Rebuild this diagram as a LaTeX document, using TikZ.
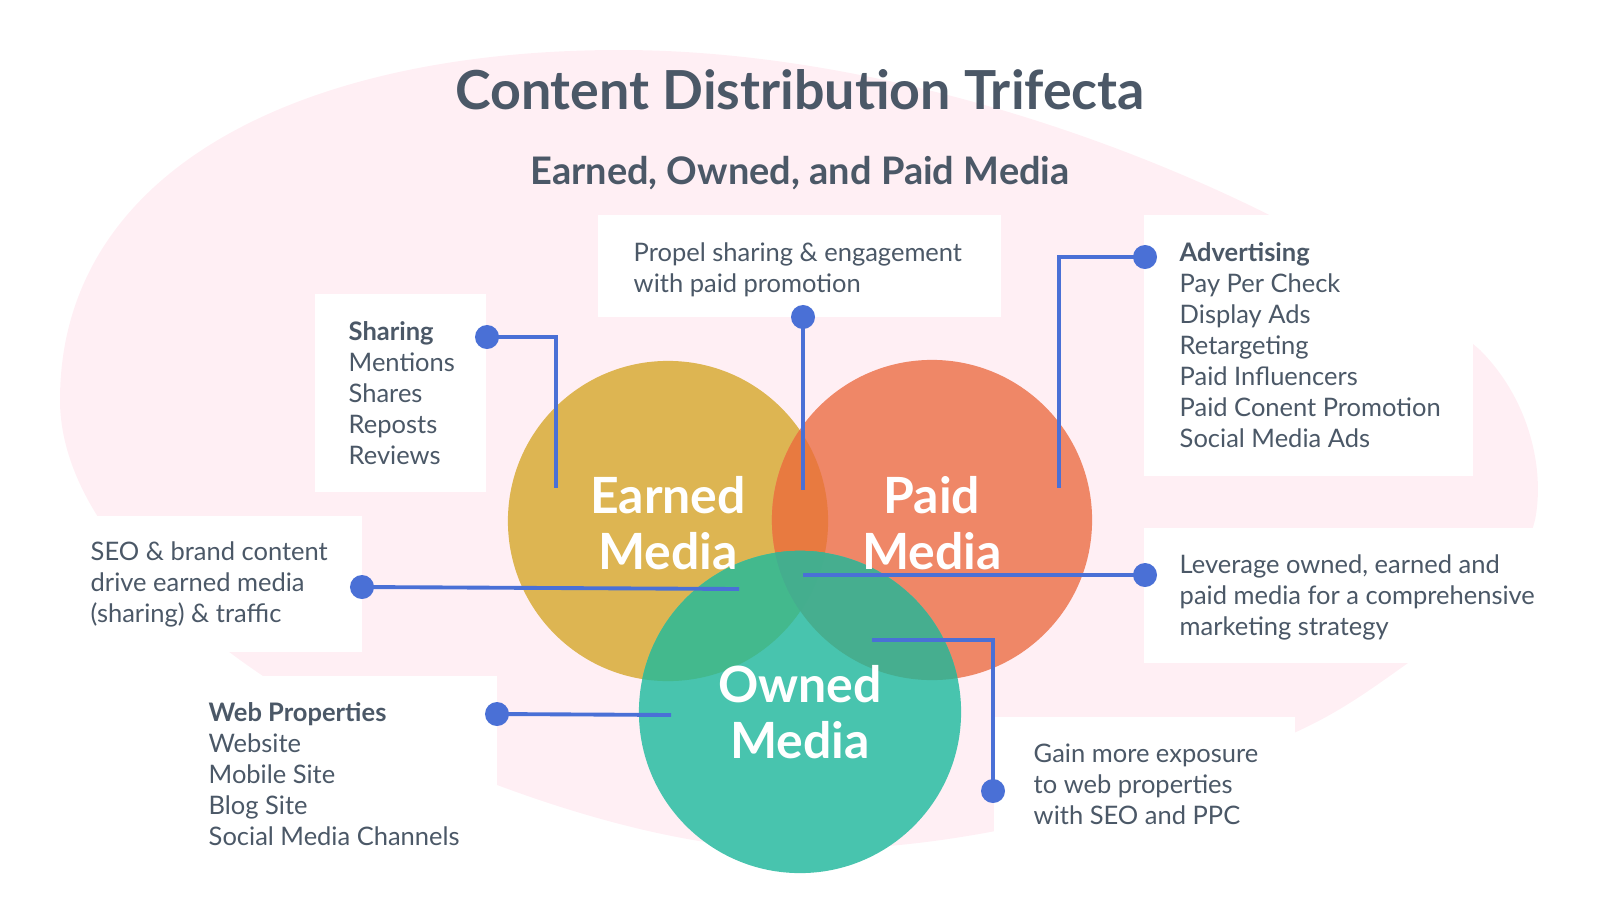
\documentclass[tikz,border=0pt]{standalone}
\usepackage{fontspec}
\setmainfont{Lato}
\usetikzlibrary{positioning}

\definecolor{pinkbg}{HTML}{FFEFF4}
\definecolor{txt}{HTML}{4B5867}
\definecolor{lnk}{HTML}{4A70D6}
\definecolor{earnedc}{HTML}{DDB552}
\definecolor{paidc}{HTML}{EF8767}
\definecolor{ownedc}{HTML}{48C4AE}
\definecolor{epc}{HTML}{E87A40}
\definecolor{eoc}{HTML}{43B98D}
\definecolor{poc}{HTML}{46AE8F}
\definecolor{epoc}{HTML}{44AE8E}

\begin{document}
\begin{tikzpicture}[x=0.01cm, y=-0.01cm,
  lst/.style={anchor=north west, align=left, inner sep=0pt, text=txt,
    font=\fontsize{7.25pt}{8.8pt}\selectfont},
  big/.style={text=white, align=center, inner sep=0pt,
    font=\bfseries\fontsize{14.2pt}{15.9pt}\selectfont},
  dot/.style={circle, fill=lnk, minimum size=0.24cm, inner sep=0pt},
  link/.style={draw=lnk, line width=1.1pt}]

\useasboundingbox (0,0) rectangle (1600,900);

%%% 背景
\fill[pinkbg] (60,400) .. controls (60,170) and (300,50) .. (620,50)
  .. controls (950,50) and (1320,210) .. (1480,350)
  .. controls (1530,400) and (1545,470) .. (1535,520)
  .. controls (1520,580) and (1460,630) .. (1408,663)
  .. controls (1370,690) and (1340,712) .. (1296,732)
  .. controls (1150,800) and (980,850) .. (800,850)
  .. controls (650,850) and (450,780) .. (263,676)
  .. controls (150,600) and (60,500) .. (60,400) -- cycle;

%% 白い枠
\fill[white] (315,294) rectangle (486,492);
\fill[white] (598,215) rectangle (1001,317);
\fill[white] (1144,215) rectangle (1473,476);
\fill[white] (40,516) rectangle (362,652);
\fill[white] (1144,528) rectangle (1570,663);
\fill[white] (180,676) rectangle (497,900);
\fill[white] (994,717) rectangle (1295,900);

%% 円
\coordinate (E) at (668,521);
\coordinate (P) at (932,520);
\coordinate (O) at (800,712);

\fill[earnedc] (E) circle[radius=1.6cm];
\fill[paidc] (P) circle[radius=1.6cm];
\begin{scope}
  \clip (E) circle[radius=1.6cm];
  \fill[epc] (P) circle[radius=1.6cm];
\end{scope}
\fill[ownedc] (O) circle[radius=1.61cm];
\begin{scope}
  \clip (O) circle[radius=1.61cm];
  \fill[eoc] (E) circle[radius=1.6cm];
  \fill[poc] (P) circle[radius=1.6cm];
  \clip (E) circle[radius=1.6cm];
  \fill[epoc] (P) circle[radius=1.6cm];
\end{scope}

%% タイトル
\node[text=txt, font=\bfseries\fontsize{15.3pt}{18pt}\selectfont] (title) at (800,90) {Content Distribution Trifecta};
\node[text=txt, font=\bfseries\fontsize{10.8pt}{13pt}\selectfont] (subtitle) at (800,173) {Earned, Owned, and Paid Media};

%% 円の名前
\node[big] (earned) at (668,523) {Earned\\Media};
\node[big] (paid) at (932,523) {Paid\\Media};
\node[big] (owned) at (800,712) {Owned\\Media};

%% 説明
\node[lst] (sharing) at (348,321) {\textbf{Sharing}\\Mentions\\Shares\\Reposts\\Reviews};
\node[lst] (propel) at (633,242) {Propel sharing \& engagement\\with paid promotion};
\node[lst] (adv) at (1179,242) {\textbf{Advertising}\\Pay Per Check\\Display Ads\\Retargeting\\Paid Influencers\\Paid Conent Promotion\\Social Media Ads};
\node[lst] (seo) at (90,541) {SEO \& brand content\\drive earned media\\(sharing) \& traffic};
\node[lst] (lev) at (1179,554) {Leverage owned, earned and\\paid media for a comprehensive\\marketing strategy};
\node[lst] (web) at (208,702) {\textbf{Web Properties}\\Website\\Mobile Site\\Blog Site\\Social Media Channels};
\node[lst] (gain) at (1033,743) {Gain more exposure\\to web properties\\with SEO and PPC};

%% 線
\coordinate (eshare) at (556,488);
\coordinate (epropel) at (803,490);
\coordinate (eadv) at (1059,488);
\coordinate (eseo) at (739,589);
\coordinate (elev) at (803,575);
\coordinate (eweb) at (671,715);
\coordinate (egain) at (872,640);

\node[dot] (dshare) at (487,337) {};
\node[dot] (dpropel) at (803,317) {};
\node[dot] (dadv) at (1145,257) {};
\node[dot] (dseo) at (362,587) {};
\node[dot] (dlev) at (1145,575) {};
\node[dot] (dweb) at (497,714) {};
\node[dot] (dgain) at (993,791) {};

\draw[link] (dshare.center) -| (eshare);
\draw[link] (dpropel.center) -- (epropel);
\draw[link] (dadv.center) -| (eadv);
\draw[link] (dseo.center) -- (eseo);
\draw[link] (dlev.center) -- (elev);
\draw[link] (dweb.center) -- (eweb);
\draw[link] (egain) -| (dgain.center);

\end{tikzpicture}
\end{document}
